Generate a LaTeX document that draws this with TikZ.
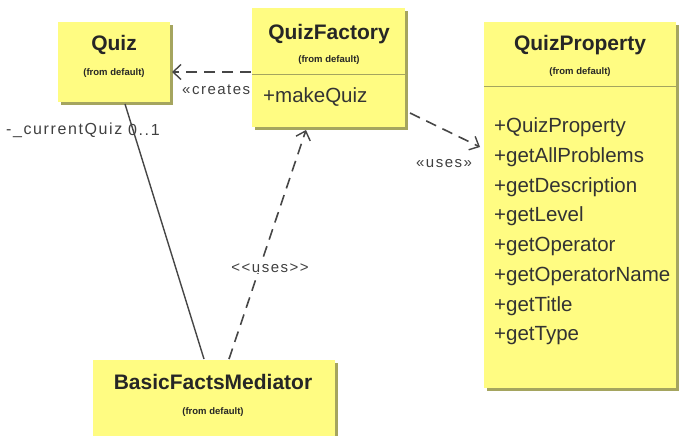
\documentclass[tikz,border=0pt]{standalone}
\usepackage{fontspec}
\setmainfont{Liberation Sans}
\newfontfamily\labelfont[LetterSpace=10]{Liberation Sans}
\usetikzlibrary{arrows.meta}
\definecolor{classfill}{RGB}{255,252,130}
\definecolor{classshade}{RGB}{165,165,95}
\definecolor{inkline}{RGB}{70,70,70}
\tikzset{
  classbox/.style={fill=classfill, draw=none},
  shadowbox/.style={fill=classshade, draw=none},
  ctitle/.style={font=\fontsize{21}{24}\selectfont\bfseries, text=black!85},
  cfrom/.style={font=\fontsize{9.5}{11}\selectfont\bfseries, text=black!85},
  cmember/.style={font=\fontsize{20.5}{24}\selectfont, text=black!80, anchor=west, inner sep=0pt},
  dep/.style={draw=inkline, line width=1.6pt, dash pattern=on 11pt off 7pt,
    -{Straight Barb[length=8pt,width=15pt,line width=1.4pt]}},
  assoc/.style={draw=inkline, line width=1.4pt},
  stereo/.style={font=\labelfont\fontsize{15}{17}\selectfont, text=black!75, inner sep=1pt},
}
\begin{document}
\begin{tikzpicture}[x=1pt,y=-1pt]
\useasboundingbox (0,0) rectangle (680,436);

% Quiz
\fill[shadowbox] (61,25) rectangle (173,105);
\fill[classbox] (58,22) rectangle (170,102);
\node[ctitle] (quiz) at (114,45) {Quiz};
\node[cfrom] (quizfrom) at (114,73) {(from default)};
\coordinate (quizR) at (172,72);
\coordinate (quizB) at (125,104);

% QuizFactory
\fill[shadowbox] (255,11) rectangle (408,130);
\fill[classbox] (252,8) rectangle (405,127);
\node[ctitle] (qf) at (329,34) {QuizFactory};
\node[cfrom] (qffrom) at (329,60) {(from default)};
\draw[classshade, line width=1pt] (252,75) -- (405,75);
\node[cmember] (makequiz) at (263,97) {+makeQuiz};
\coordinate (qfL) at (251,72);
\coordinate (qfR) at (410,113);
\coordinate (qfB) at (306,130);

% QuizProperty
\fill[shadowbox] (487,25) rectangle (679,391);
\fill[classbox] (484,22) rectangle (676,388);
\node[ctitle] (qp) at (580,45) {QuizProperty};
\node[cfrom] (qpfrom) at (580,72) {(from default)};
\draw[classshade, line width=1pt] (484,86) -- (676,86);
\node[cmember] (m1) at (494,127) {+QuizProperty};
\node[cmember] (m2) at (494,157) {+getAllProblems};
\node[cmember] (m3) at (494,187) {+getDescription};
\node[cmember] (m4) at (494,216) {+getLevel};
\node[cmember] (m5) at (494,246) {+getOperator};
\node[cmember] (m6) at (494,276) {+getOperatorName};
\node[cmember] (m7) at (494,306) {+getTitle};
\node[cmember] (m8) at (494,336) {+getType};
\coordinate (qpL) at (480,147);

% BasicFactsMediator
\fill[shadowbox] (96,363) rectangle (338,436);
\fill[classbox] (93,360) rectangle (335,436);
\node[ctitle] (bfm) at (213,382) {BasicFactsMediator};
\node[cfrom] (bfmfrom) at (213,412) {(from default)};
\coordinate (bfmA) at (204,359);
\coordinate (bfmD) at (229,359);

% connectors
\draw[dep] (qfL) -- (quizR);
\draw[dep] (qfR) -- (qpL);
\draw[dep] (bfmD) -- (qfB);
\draw[assoc] (quizB) -- (bfmA);

% labels
\node[stereo, anchor=west] (lcreates) at (181,90) {«creates};
\node[stereo] (luses1) at (444,164) {«uses»};
\node[stereo, fill=white] (luses2) at (270,268) {{<}{<}uses{>}{>}};
\node[stereo, anchor=west, font=\labelfont\fontsize{16}{18}\selectfont] (lrole) at (5,130) {-\_currentQuiz};
\node[stereo, anchor=west, font=\labelfont\fontsize{16}{18}\selectfont] (lmult) at (127,130) {0..1};
\end{tikzpicture}
\end{document}
